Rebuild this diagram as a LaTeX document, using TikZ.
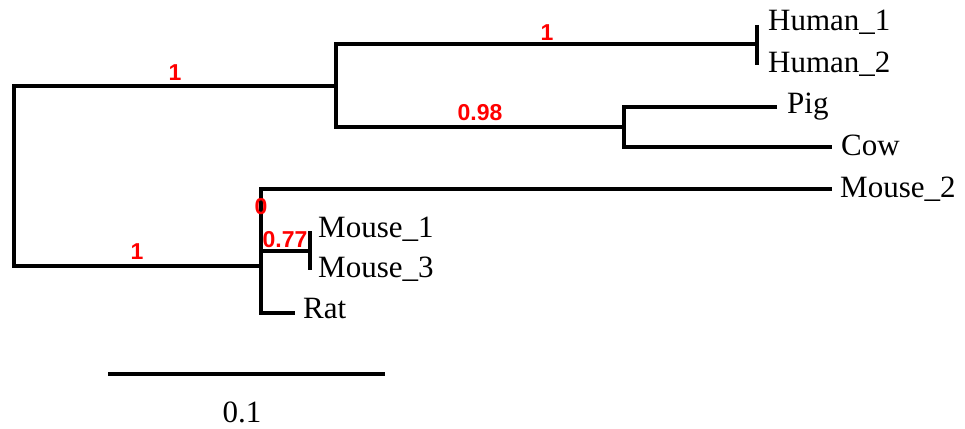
\documentclass[tikz,border=0pt]{standalone}
\usepackage{fontspec}
\setmainfont{Liberation Serif}
\newfontfamily\bootfont{Liberation Sans}
\definecolor{bootred}{RGB}{255,0,0}
\begin{document}
\begin{tikzpicture}[x=1pt,y=-1pt,
  branch/.style={line width=3.4pt, line join=miter, line cap=butt},
  leaf/.style={anchor=base west, inner sep=0pt, font=\fontsize{31}{37}\selectfont},
  boot/.style={text=bootred, inner sep=0pt, font=\bootfont\bfseries\fontsize{23}{27}\selectfont}]
\useasboundingbox (0,0) rectangle (965,428);
% inner nodes
\coordinate (rootTop) at (14,86);
\coordinate (rootBot) at (14,266);
\coordinate (A) at (336,86);
\coordinate (Atop) at (336,44);
\coordinate (Abot) at (336,127);
\coordinate (H) at (757,44);
\coordinate (H1) at (757,25);
\coordinate (H2) at (757,65);
\coordinate (P) at (624,127);
\coordinate (Ptop) at (624,107);
\coordinate (Pbot) at (624,147);
\coordinate (pigTip) at (777,107);
\coordinate (cowTip) at (832,147);
\coordinate (B) at (261,266);
\coordinate (Btop) at (261,189);
\coordinate (Bbot) at (261,313);
\coordinate (m2Tip) at (832,189);
\coordinate (ratTip) at (295,313);
\coordinate (Bm) at (261,251);
\coordinate (M) at (310,251);
\coordinate (M1) at (310,231);
\coordinate (M3) at (310,270);
\coordinate (sbL) at (108,374);
\coordinate (sbR) at (385,374);
% branches
\draw[branch] (A) -- (rootTop) -- (rootBot) -- (B);
\draw[branch] (H) -- (Atop) -- (Abot) -- (P);
\draw[branch] (H1) -- (H2);
\draw[branch] (pigTip) -- (Ptop) -- (Pbot) -- (cowTip);
\draw[branch] (m2Tip) -- (Btop) -- (Bbot) -- (ratTip);
\draw[branch] (Bm) -- (M);
\draw[branch] (M1) -- (M3);
\draw[branch] (sbL) -- (sbR);
% leaf labels
\node[leaf] (human1) at (768,31) {Human\_1};
\node[leaf] (human2) at (768,72) {Human\_2};
\node[leaf] (pig) at (787,113) {Pig};
\node[leaf] (cow) at (841,155) {Cow};
\node[leaf] (mouse2) at (840,197) {Mouse\_2};
\node[leaf] (mouse1) at (318,237) {Mouse\_1};
\node[leaf] (mouse3) at (318,277) {Mouse\_3};
\node[leaf] (rat) at (303,318) {Rat};
\node[leaf, anchor=base] (scale) at (242,422) {0.1};
% support values
\node[boot] (b1) at (175,73) {1};
\node[boot] (b2) at (547,33) {1};
\node[boot] (b3) at (480,113) {0.98};
\node[boot] (b4) at (261,207) {0};
\node[boot] (b5) at (285,240) {0.77};
\node[boot] (b6) at (137,252) {1};
\end{tikzpicture}
\end{document}
